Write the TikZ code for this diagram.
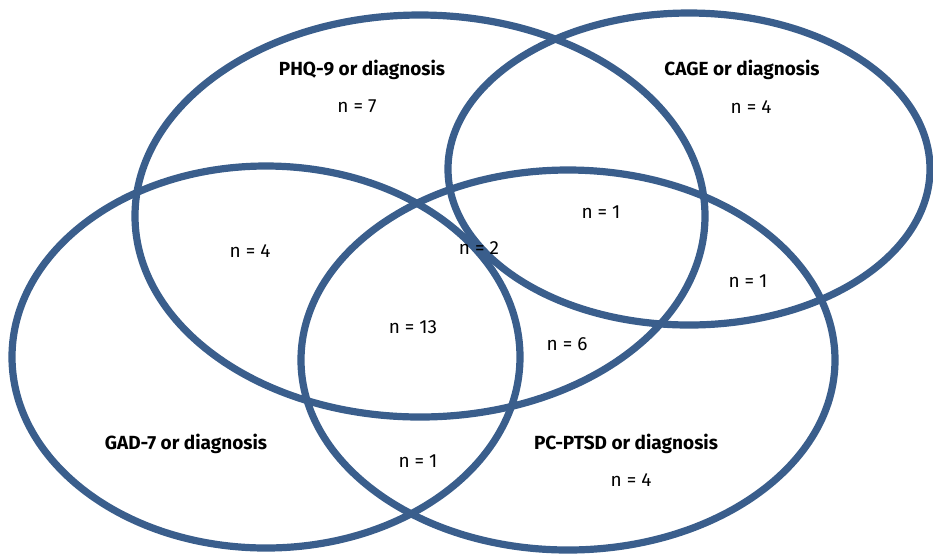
\documentclass[tikz,border=0pt]{standalone}
\usepackage{fontspec}
\setmainfont{Fira Sans}
\usepackage{xcolor}
\definecolor{setblue}{RGB}{58,94,140}
\usepackage{tikz}
\usetikzlibrary{positioning}
\tikzstyle{set} = [
    draw=setblue,
    line width=3.6pt,
]
\tikzstyle{title} = [
    text centered,
    font=\fontsize{9.5}{11}\selectfont\bfseries,
]
\tikzstyle{count} = [
    text centered,
    font=\fontsize{9.5}{11}\selectfont,
]

\begin{document}
\begin{tikzpicture}[x=0.5pt,y=-0.5pt]
    \useasboundingbox (0,0) rectangle (933,554);

    % sets
    \draw [set] (420,216) ellipse (285 and 201);
    \draw [set] (689,169) ellipse (241 and 156);
    \draw [set] (266,357) ellipse (254 and 191);
    \draw [set] (568,360) ellipse (267 and 190);

    % titles
    \node (phq) at (362,70) [title] {PHQ-9 or diagnosis};
    \node (cage) at (742,70) [title] {CAGE or diagnosis};
    \node (gad) at (186,444) [title] {GAD-7 or diagnosis};
    \node (ptsd) at (626,444) [title] {PC-PTSD or diagnosis};

    % counts
    \node (nphq) at (357,106) [count] {n = 7};
    \node (ncage) at (751,107) [count] {n = 4};
    \node (nphqcage) at (601,212) [count] {n = 1};
    \node (nphqgad) at (250,251) [count] {n = 4};
    \node (nphqgadcage) at (479,248) [count] {n = 2};
    \node (ncageptsd) at (748,281) [count] {n = 1};
    \node (nall) at (413,327) [count] {n = 13};
    \node (nphqptsd) at (567,344) [count] {n = 6};
    \node (ngadptsd) at (418,461) [count] {n = 1};
    \node (nptsd) at (631,480) [count] {n = 4};

\end{tikzpicture}
\end{document}
